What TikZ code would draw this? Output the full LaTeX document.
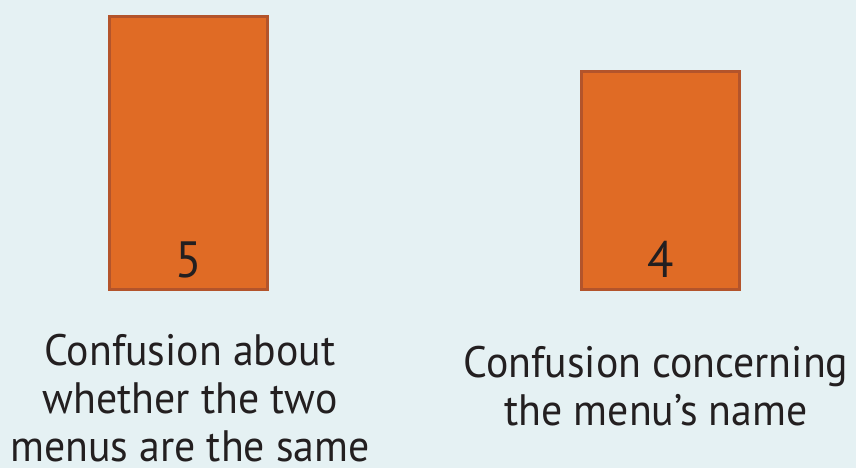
\documentclass[tikz,border=0pt]{standalone}
\usepackage{fontspec}
\setmainfont[FakeStretch=0.95]{PT Sans}
\definecolor{bg}{HTML}{E5F1F3}
\definecolor{barfill}{HTML}{E06B25}
\definecolor{barline}{HTML}{B3542B}
\definecolor{txt}{HTML}{231F20}
\begin{document}
\begin{tikzpicture}[x=1pt,y=-1pt,
  bar/.style={fill=barfill,draw=barline,line width=3pt},
  val/.style={font=\fontsize{51}{51}\selectfont,text=txt,anchor=base},
  lbl/.style={font=\fontsize{44}{48}\selectfont,text=txt,align=center,anchor=base,inner sep=0pt}]
\fill[bg] (0,0) rectangle (856,468);
\useasboundingbox (0,0) rectangle (856,468);
\draw[bar] (109.5,16.5) rectangle (267.5,289.5) coordinate (b1);
\draw[bar] (581.5,71.5) rectangle (739.5,289.5) coordinate (b2);
\node[val] (v1) at (189,277) {5};
\node[val] (v2) at (661,277) {4};
\node[lbl] (l1) at (190,461) {Confusion about\\whether the two\\menus are the same};
\node[lbl] (l2) at (656,425) {Confusion concerning\\the menu’s name};
\end{tikzpicture}
\end{document}
